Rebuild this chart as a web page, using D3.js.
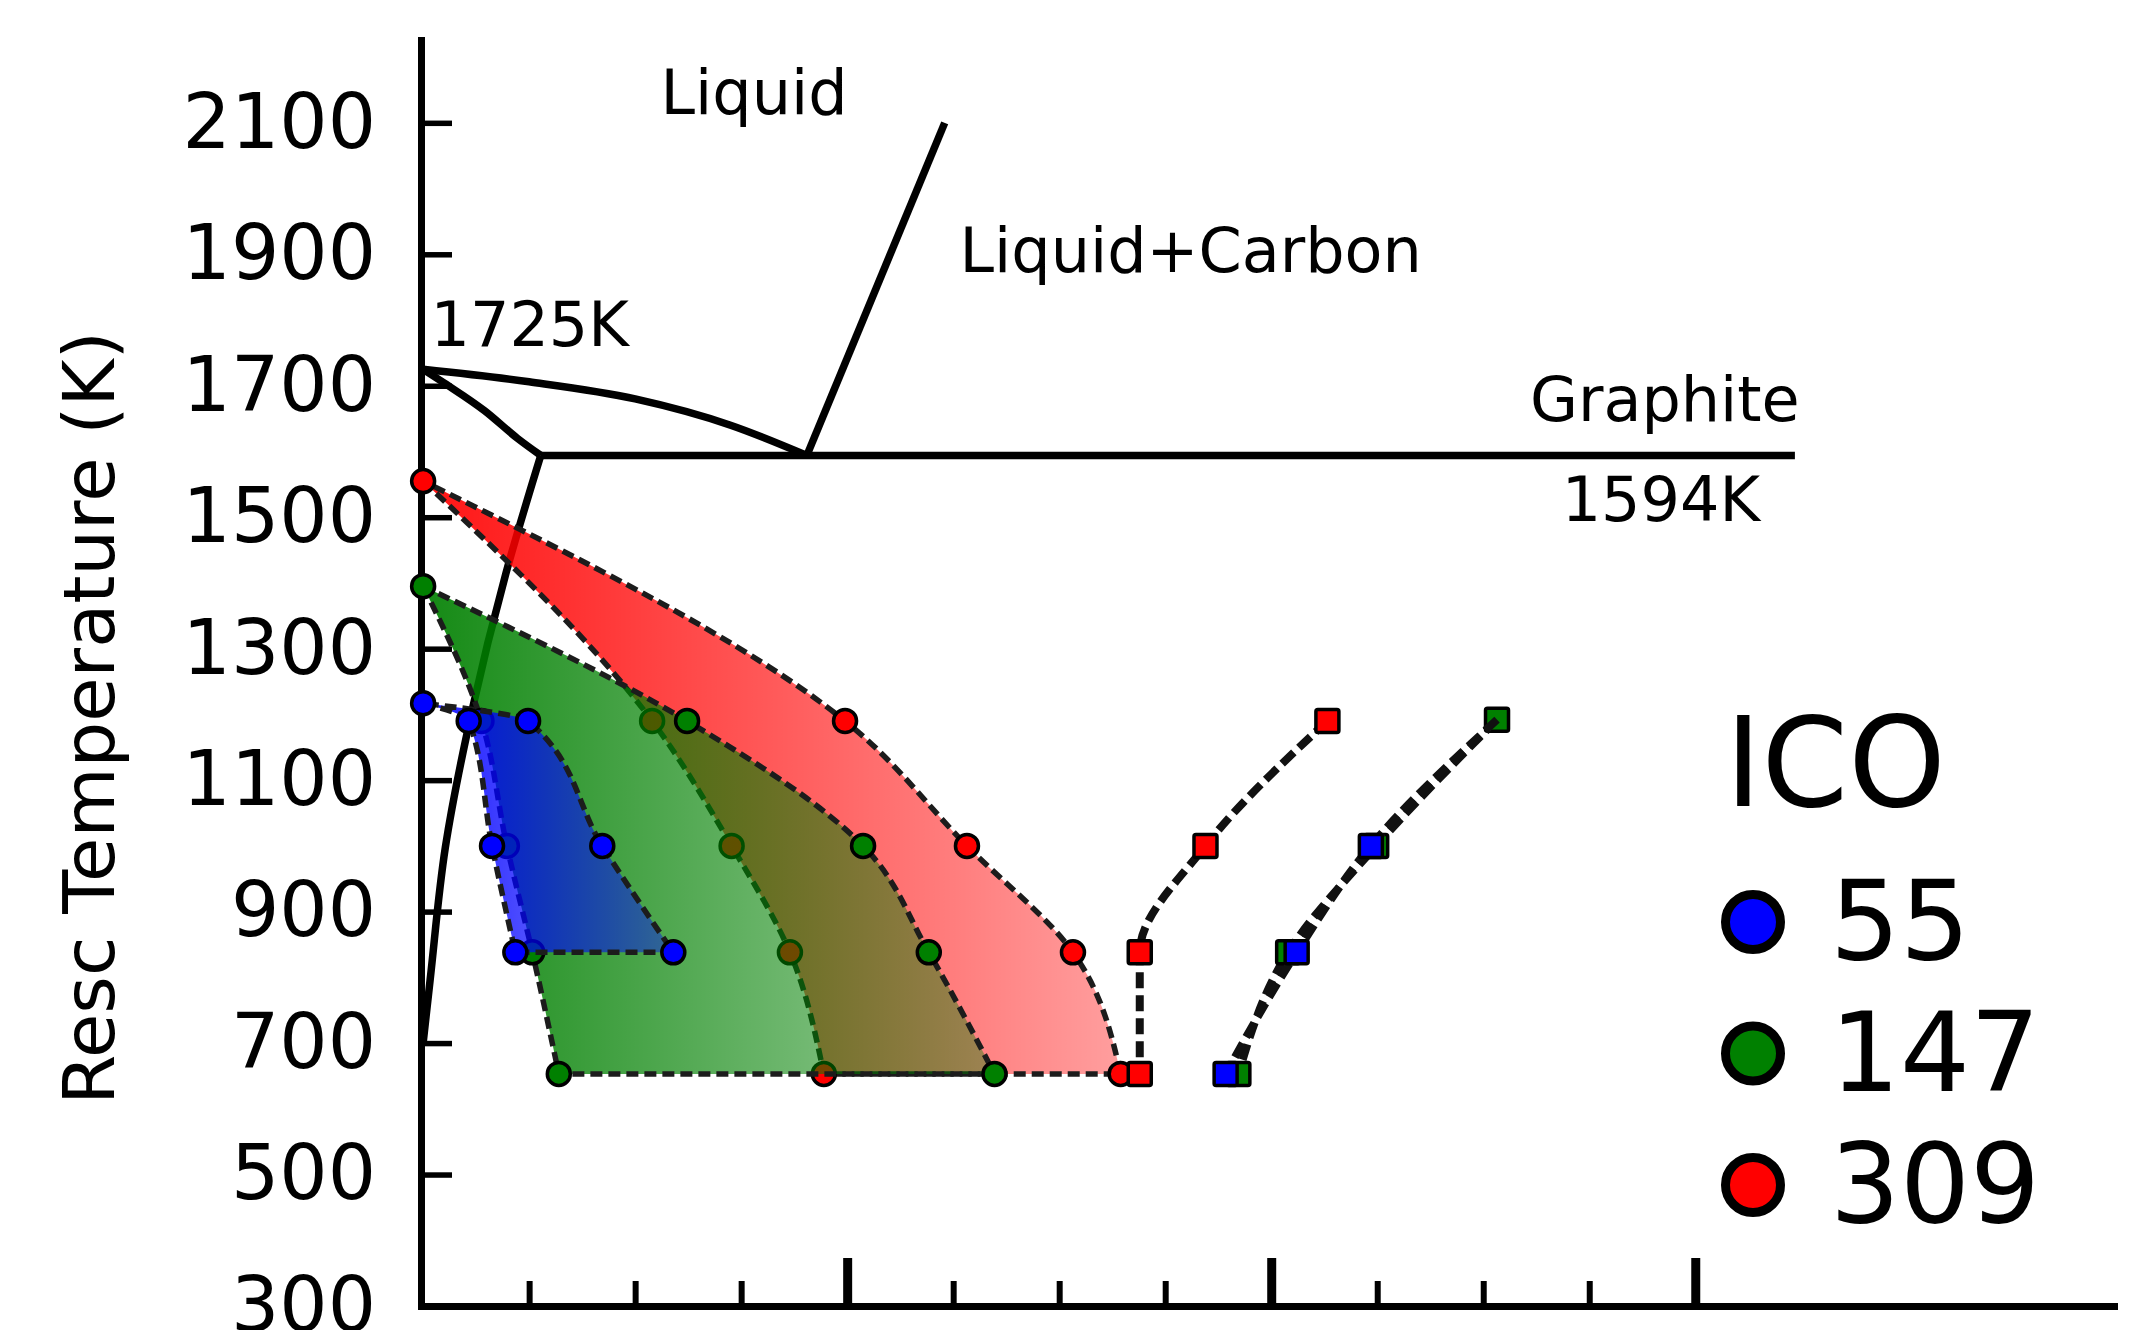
<!DOCTYPE html>
<html>
<head>
<meta charset="utf-8">
<script src="https://cdnjs.cloudflare.com/ajax/libs/d3/7.8.5/d3.min.js"></script>
<style>
  body { margin: 0; background: #fff; }
  svg { display: block; font-family: "DejaVu Sans", sans-serif; }
</style>
</head>
<body>
<svg width="2144" height="1330"></svg>
<script>
// ICO sizes and their colours
const icoSizes = ['55', '147', '309'];
const icoColors = ['#0000ff', '#008000', '#ff0000'];

// boundaries of each region, [x, T(K)], from the top point down
const blueLeft   = [[0, 1217], [0.43, 1190], [0.65, 1000], [0.87, 838]];
const blueRight  = [[0, 1217], [0.99, 1190], [1.69, 1000], [2.36, 838]];
const greenLeft  = [[0, 1395], [0.55, 1190], [0.79, 1000], [1.03, 838], [1.28, 653]];
const greenRight = [[0, 1395], [2.49, 1190], [4.15, 1000], [4.77, 838], [5.39, 653]];
const redLeft    = [[0, 1555], [2.16, 1190], [2.91, 1000], [3.46, 838], [3.78, 653]];
const redRight   = [[0, 1555], [3.98, 1190], [5.13, 1000], [6.13, 838], [6.58, 653]];

// square series
const redSq   = [[8.53, 1190], [7.38, 1000], [6.76, 838], [6.76, 653]];
const greenSq = [[10.13, 1192], [8.99, 1000], [8.16, 838], [7.69, 653]];
const blueSq  = [[10.13, 1192], [8.94, 1000], [8.24, 838], [7.57, 653]];

// phase diagram lines
const liquidus   = [[0, 1725], [1.0, 1706], [2.0, 1680], [2.9, 1640], [3.62, 1594]];
const solidus    = [[0, 1725], [0.22, 1702], [0.58, 1662], [0.89, 1620], [1.11, 1594]];
const solvus     = [[1.11, 1594], [0.78, 1414], [0.46, 1205], [0.21, 998], [0.066, 796], [0, 700]];
const eutectic   = [[1.11, 1594], [12.94, 1594]];
const carbonLine = [[3.62, 1594], [4.92, 2100]];

const yTicks = [300, 500, 700, 900, 1100, 1300, 1500, 1700, 1900, 2100];
const xMinorTicks = [1, 2, 3, 5, 6, 7, 9, 10, 11];
const xMajorTicks = [4, 8, 12];

const notes = [
  {text: 'Liquid', x: 2.24, T: 2114},
  {text: 'Liquid+Carbon', x: 5.06, T: 1873},
  {text: '1725K', x: 0.07, T: 1761},
  {text: 'Graphite', x: 10.44, T: 1647},
  {text: '1594K', x: 10.74, T: 1494}
];

const svg = d3.select('svg');
const x = d3.scaleLinear().domain([-0.02, 15.95]).range([421, 2114]);
const y = d3.scaleLinear().domain([300, 2226]).range([1306, 40]);

const lineX = d3.line().x(d => x(d[0])).y(d => y(d[1])).curve(d3.curveMonotoneX);
const lineY = d3.line().x(d => x(d[0])).y(d => y(d[1])).curve(d3.curveMonotoneY);
const lineS = d3.line().x(d => x(d[0])).y(d => y(d[1]));

// gradients
const defs = svg.append('defs');
icoColors.forEach((c, i) => {
  const g = defs.append('linearGradient').attr('id', 'grad' + i)
    .attr('x1', 0).attr('x2', 1).attr('y1', 0).attr('y2', 0);
  g.append('stop').attr('offset', 0).attr('stop-color', c).attr('stop-opacity', 0.92);
  g.append('stop').attr('offset', 1).attr('stop-color', c).attr('stop-opacity', 0.38);
});

// axes
const yAxis = svg.append('g').attr('transform', 'translate(421,0)')
  .call(d3.axisLeft(y).tickValues(yTicks).tickFormat(d3.format('d'))
    .tickSizeInner(-31).tickSizeOuter(0).tickPadding(45));
yAxis.select('.domain').attr('stroke-width', 7).attr('stroke-linecap', 'square');
yAxis.selectAll('.tick line').attr('stroke-width', 5.5);
yAxis.selectAll('.tick text').attr('font-size', 76).attr('font-family', 'DejaVu Sans').attr('fill', '#000');

const xAxis = svg.append('g').attr('transform', 'translate(0,1306)')
  .call(d3.axisBottom(x).tickValues(xMinorTicks).tickSizeInner(-25).tickSizeOuter(0).tickFormat(''));
xAxis.select('.domain').attr('stroke-width', 7).attr('stroke-linecap', 'square');
xAxis.selectAll('.tick line').attr('stroke-width', 6);
const xAxisMaj = svg.append('g').attr('transform', 'translate(0,1306)')
  .call(d3.axisBottom(x).tickValues(xMajorTicks).tickSizeInner(-48).tickSizeOuter(0).tickFormat(''));
xAxisMaj.select('.domain').remove();
xAxisMaj.selectAll('.tick line').attr('stroke-width', 9);

// phase diagram
const phase = svg.append('g').attr('fill', 'none').attr('stroke', '#000').attr('stroke-width', 7.5);
phase.append('path').attr('d', lineX(liquidus));
phase.append('path').attr('d', lineX(solidus));
phase.append('path').attr('d', lineY(solvus.slice().reverse()));
phase.append('path').attr('d', lineS(eutectic));
phase.append('path').attr('d', lineS(carbonLine));

// regions: red, then green, then blue on top
const regions = [
  {left: redLeft, right: redRight, c: 2},
  {left: greenLeft, right: greenRight, c: 1},
  {left: blueLeft, right: blueRight, c: 0}
];
regions.forEach(r => {
  const d = lineY(r.left) + lineY(r.right.slice().reverse()).replace(/^M/, 'L') + 'Z';
  const g = svg.append('g');
  g.append('path').attr('d', d).attr('fill', `url(#grad${r.c})`);
  g.append('path').attr('d', d).attr('fill', 'none')
    .attr('stroke', '#1c1c1c').attr('stroke-width', 5.5).attr('stroke-dasharray', '12,6');
  g.selectAll('circle').data(r.left.concat(r.right.slice(1))).join('circle')
    .attr('cx', d => x(d[0])).attr('cy', d => y(d[1])).attr('r', 11.5)
    .attr('fill', icoColors[r.c]).attr('stroke', '#000').attr('stroke-width', 3.5);
});

// square series
const sqSeries = [
  {pts: redSq, marks: redSq, c: 2},
  {pts: greenSq, marks: greenSq, c: 1},
  {pts: blueSq, marks: blueSq.slice(1), c: 0}
];
sqSeries.forEach(s => {
  const g = svg.append('g');
  g.append('path').attr('d', lineY(s.pts)).attr('fill', 'none')
    .attr('stroke', '#111').attr('stroke-width', 8).attr('stroke-dasharray', '16,7');
  g.selectAll('rect').data(s.marks).join('rect')
    .attr('x', d => x(d[0]) - 11.5).attr('y', d => y(d[1]) - 11.5)
    .attr('width', 23).attr('height', 23).attr('rx', 2)
    .attr('fill', icoColors[s.c]).attr('stroke', '#000').attr('stroke-width', 3.5);
});

// annotations
svg.append('g').selectAll('text').data(notes).join('text')
  .attr('x', d => x(d.x)).attr('y', d => y(d.T))
  .attr('font-size', 62).text(d => d.text);

// y label
svg.append('text').attr('transform', 'translate(114,718) rotate(-90)')
  .attr('text-anchor', 'middle').attr('font-size', 72).text('Resc Temperature (K)');

// legend
const legend = svg.append('g');
legend.append('text').attr('x', 1725).attr('y', 806).attr('font-size', 124).text('ICO');
icoSizes.forEach((s, i) => {
  const cy = 922 + i * 131.5;
  legend.append('circle').attr('cx', 1753).attr('cy', cy).attr('r', 27.5)
    .attr('fill', icoColors[i]).attr('stroke', '#000').attr('stroke-width', 9);
  legend.append('text').attr('x', 1830).attr('y', cy + 37).attr('font-size', 110).text(s);
});
</script>
</body>
</html>
